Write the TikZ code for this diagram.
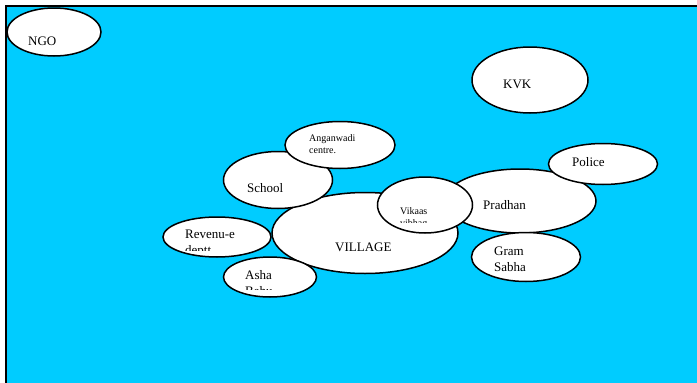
\documentclass[tikz,border=0pt]{standalone}
\usepackage{fontspec}
\setmainfont{Liberation Serif}
\usetikzlibrary{shapes.geometric,positioning}
\definecolor{skyfill}{RGB}{0,204,255}
\tikzset{
  bubble/.style={ellipse, draw=black, line width=1.5pt, fill=white, inner sep=0pt},
  lbl/.style={anchor=base west, inner sep=0pt, font=\fontsize{13}{15}\selectfont},
  small/.style={font=\fontsize{10}{12}\selectfont}
}
\begin{document}
\begin{tikzpicture}[x=1pt, y=-1pt]
\useasboundingbox (0,0) rectangle (697,383);
\fill[skyfill] (6,6) rectangle (710,400);
\draw[line width=1.5pt] (710,6) -- (6,6) -- (6,400);

% Outer agencies
\node[bubble, minimum width=94pt, minimum height=48pt] (ngo) at (54,32) {};
\node[lbl] (ngotxt) at (28,45) {NGO};
\node[bubble, minimum width=116pt, minimum height=66pt] (kvk) at (530,80) {};
\node[lbl] (kvktxt) at (503,88) {KVK};

% Village cluster
\node[bubble, minimum width=186pt, minimum height=81pt] (village) at (365,233) {};
\node[lbl] (villagetxt) at (335,251) {VILLAGE};
\node[bubble, minimum width=109pt, minimum height=57pt] (school) at (278,180) {};
\node[lbl] (schooltxt) at (247,192) {School};
\node[bubble, minimum width=110pt, minimum height=47pt] (anganwadi) at (340,145) {};
\node[lbl, small] (anganwaditxt) at (309,141) {Anganwadi};
\node[lbl, small] (centretxt) at (309,153) {centre.};
\node[bubble, minimum width=108pt, minimum height=40pt] (revenue) at (217,237) {};
\node[lbl] (revenuetxt) at (185,238) {Revenu-e};
\begin{scope}
\clip (170,240) rectangle (260,250);
\node[lbl] (depttxt) at (185,254) {deptt.};
\end{scope}
\node[bubble, minimum width=93pt, minimum height=40pt] (asha) at (270,277) {};
\node[lbl] (ashatxt) at (245,279) {Asha};
\begin{scope}
\clip (235,282) rectangle (300,289);
\node[lbl] (bahutxt) at (245,295) {Bahu};
\end{scope}

% Panchayat side
\node[bubble, minimum width=152pt, minimum height=64pt] (pradhan) at (520,201) {};
\node[lbl] (pradhantxt) at (483,209) {Pradhan};
\node[bubble, minimum width=109pt, minimum height=49pt] (gramsabha) at (526,257) {};
\node[lbl] (gramtxt) at (494,255) {Gram};
\node[lbl] (sabhatxt) at (494,271) {Sabha};
\node[bubble, minimum width=109pt, minimum height=41pt] (police) at (603,164) {};
\node[lbl] (policetxt) at (572,166) {Police};
\node[bubble, minimum width=95pt, minimum height=56pt] (vikaas) at (425,205) {};
\node[lbl, small] (vikaastxt) at (400,214) {Vikaas};
\begin{scope}
\clip (385,216) rectangle (465,222);
\node[lbl, small] (vibhagtxt) at (400,226) {vibhag};
\end{scope}
\end{tikzpicture}
\end{document}
